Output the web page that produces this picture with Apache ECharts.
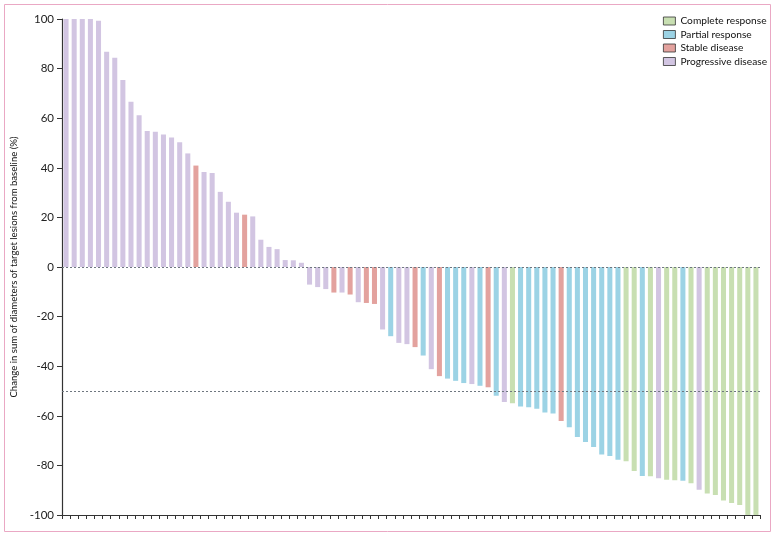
<!DOCTYPE html>
<html>
<head>
<meta charset="utf-8">
<script src="https://cdn.jsdelivr.net/npm/echarts@6/dist/echarts.min.js"></script>
<style>
html,body{margin:0;padding:0;background:#fff;}
#chart{width:777px;height:538px;}
</style>
</head>
<body>
<div id="chart"></div>
<script>
// Change in sum of target lesion diameters (%) per patient, ordered as in the waterfall
const values = [100,100,100,100,99.3,86.8,84.4,75.4,66.6,61.2,54.8,54.5,53.4,52.2,50.3,45.8,40.9,38.3,37.9,30.3,
  26.3,21.9,21.1,20.4,11.0,8.1,7.2,2.8,2.7,1.7,
  -7.1,-8.1,-8.9,-10.3,-10.3,-11.1,-14.2,-14.5,-14.9,
  -25.2,-27.9,-30.6,-31.1,-32.3,-35.7,
  -41.2,-44.0,-45.0,-45.9,-46.8,-47.2,-47.9,-48.5,
  -51.9,-54.4,-54.9,-56.2,-56.6,-57.2,
  -58.7,-59.1,-62.1,-64.6,-68.5,-70.6,-72.6,-75.6,-76.2,-77.7,
  -78.3,-82.3,-84.3,-84.4,-85.2,-85.8,-86.0,-86.2,-87.2,-89.8,
  -91.3,-91.9,-94.2,-95.2,-96.0,-100,-100];
// Best response per patient: CR, PR, SD, PD
const responses = ['PD','PD','PD','PD','PD','PD','PD','PD','PD','PD','PD','PD','PD','PD','PD','PD','SD','PD','PD','PD',
  'PD','PD','SD','PD','PD','PD','PD','PD','PD','PD',
  'PD','PD','PD','SD','PD','SD','PD','SD','SD',
  'PD','PR','PD','PD','SD','PR',
  'PD','SD','PR','PR','PR','PD','PR','SD',
  'PR','PD','CR','PR','PR','PR',
  'PR','PR','SD','PR','PR','PR','PR','PR','PR','PR',
  'CR','CR','PR','CR','PD','CR','CR','PR','CR','PD',
  'CR','CR','CR','CR','CR','CR','CR'];
const categories = values.map((v, i) => 'P' + (i + 1));
const groupCodes = ['CR','PR','SD','PD'];
const groupNames = ['Complete response','Partial response','Stable disease','Progressive disease'];
const groupColors = ['#c8dfb2','#9cd3e5','#e3a29e','#d2c5e2'];
const yTicks = [-100,-80,-60,-40,-20,0,20,40,60,80,100];
const refLines = [0,-50];
const yTitle = 'Change in sum of diameters of target lesions from baseline (%)';

const font = "Lato,'Liberation Sans',sans-serif";

const series = groupCodes.map((code, gi) => ({
  name: groupNames[gi],
  type: 'bar',
  stack: 'all',
  barWidth: '62%',
  itemStyle: { color: groupColors[gi] },
  data: values.map((v, i) => responses[i] === code ? v : '-'),
  markLine: gi === 0 ? {
    silent: true,
    symbol: ['none','none'],
    label: { show: false },
    lineStyle: { color: '#6f7780', type: [2,2], width: 1 },
    data: refLines.map(y => ({ yAxis: y }))
  } : undefined
}));

const chart = echarts.init(document.getElementById('chart'), null, { renderer: 'canvas' });
chart.setOption({
  animation: false,
  backgroundColor: '#fff',
  graphic: [{
    type: 'rect',
    shape: { x: 4.5, y: 4.5, width: 766, height: 527 },
    style: { fill: 'none', stroke: '#eaa8c4', lineWidth: 1 },
    silent: true
  }],
  legend: {
    orient: 'vertical',
    left: 658,
    top: 10,
    icon: 'rect',
    itemWidth: 12,
    itemHeight: 8,
    itemGap: 1.5,
    itemStyle: { borderColor: '#333', borderWidth: 0.8 },
    textStyle: { fontFamily: font, fontSize: 10.2, color: '#111', lineHeight: 12 },
    data: groupNames
  },
  grid: { left: 62, right: 17, top: 19, bottom: 23, containLabel: false },
  xAxis: {
    type: 'category',
    data: categories,
    boundaryGap: true,
    position: 'bottom',
    axisLine: { onZero: false, lineStyle: { color: '#333', width: 1.2 } },
    axisTick: { show: true, length: 4, lineStyle: { color: '#333' }, interval: 0 },
    axisLabel: { show: false },
    splitLine: { show: false }
  },
  yAxis: {
    type: 'value',
    min: yTicks[0],
    max: yTicks[yTicks.length - 1],
    interval: 20,
    name: yTitle,
    nameLocation: 'middle',
    nameGap: 28,
    nameTextStyle: { fontFamily: font, fontSize: 9.6, color: '#111' },
    axisLine: { show: true, lineStyle: { color: '#333', width: 1.2 } },
    axisTick: { show: true, length: 5, lineStyle: { color: '#333' } },
    axisLabel: { fontFamily: font, fontSize: 11.5, color: '#222', margin: 8 },
    splitLine: { show: false }
  },
  series: series
});
</script>
</body>
</html>
